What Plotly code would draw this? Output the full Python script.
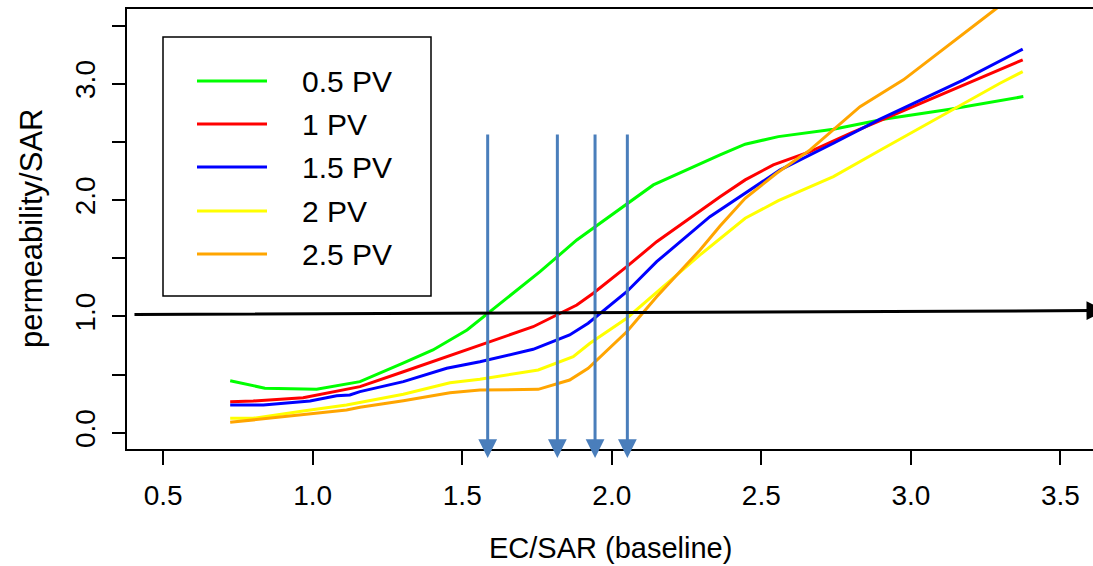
import plotly.graph_objects as go

# ---- data ----
series_names = ["0.5 PV", "1 PV", "1.5 PV", "2 PV", "2.5 PV"]
series_colors = ["#00FF00", "#FF0000", "#0000FF", "#FFFF00", "#FFA500"]

x_05 = [0.724, 0.840, 1.013, 1.101, 1.158, 1.302, 1.402, 1.516, 1.586, 1.760, 1.883, 2.005, 2.139, 2.362, 2.446, 2.557, 2.741, 2.908, 3.131, 3.376]
y_05 = [0.447, 0.382, 0.373, 0.416, 0.439, 0.599, 0.711, 0.883, 1.029, 1.384, 1.657, 1.886, 2.130, 2.388, 2.480, 2.545, 2.609, 2.695, 2.781, 2.889]

x_10 = [0.724, 0.801, 0.968, 1.113, 1.158, 1.303, 1.470, 1.559, 1.737, 1.883, 1.938, 2.050, 2.150, 2.362, 2.446, 2.540, 2.663, 2.797, 2.908, 3.220, 3.374]
y_10 = [0.267, 0.273, 0.301, 0.373, 0.396, 0.524, 0.674, 0.748, 0.911, 1.098, 1.199, 1.427, 1.642, 2.029, 2.173, 2.302, 2.416, 2.574, 2.695, 3.033, 3.205]

x_15 = [0.724, 0.835, 0.991, 1.080, 1.124, 1.158, 1.303, 1.448, 1.559, 1.737, 1.859, 1.921, 2.050, 2.150, 2.328, 2.446, 2.563, 2.741, 2.897, 3.176, 3.374]
y_15 = [0.238, 0.238, 0.273, 0.318, 0.324, 0.353, 0.439, 0.554, 0.610, 0.717, 0.840, 0.941, 1.212, 1.470, 1.857, 2.058, 2.259, 2.488, 2.695, 3.033, 3.297]

x_20 = [0.724, 0.801, 0.968, 1.113, 1.303, 1.459, 1.559, 1.754, 1.871, 1.927, 2.050, 2.295, 2.446, 2.557, 2.741, 2.903, 3.298, 3.374]
y_20 = [0.124, 0.124, 0.187, 0.238, 0.330, 0.430, 0.459, 0.539, 0.653, 0.769, 0.984, 1.528, 1.843, 1.995, 2.201, 2.437, 3.004, 3.104]

x_25 = [0.724, 0.801, 0.968, 1.113, 1.158, 1.303, 1.459, 1.559, 1.754, 1.859, 1.921, 2.050, 2.150, 2.295, 2.362, 2.446, 2.551, 2.663, 2.830, 2.975, 3.287, 3.374]
y_25 = [0.089, 0.109, 0.152, 0.195, 0.218, 0.275, 0.344, 0.367, 0.373, 0.453, 0.554, 0.868, 1.169, 1.571, 1.777, 2.015, 2.230, 2.431, 2.803, 3.033, 3.649, 3.820]

# threshold markers (EC/SAR where permeability/SAR reaches 1)
threshold_x = [1.585, 1.818, 1.944, 2.052]
arrow_top = 2.576
arrow_bottom = -0.218
hline_start = (0.399, 1.015)
hline_end = (3.650, 1.050)

x_ticks = [0.5, 1.0, 1.5, 2.0, 2.5, 3.0, 3.5]
x_ticktext = ["0.5", "1.0", "1.5", "2.0", "2.5", "3.0", "3.5"]
y_ticks = [0.0, 0.5, 1.0, 1.5, 2.0, 2.5, 3.0, 3.5]
y_ticktext = ["0.0", "", "1.0", "", "2.0", "", "3.0", ""]

xs = [x_05, x_10, x_15, x_20, x_25]
ys = [y_05, y_10, y_15, y_20, y_25]

FONT = "Liberation Sans, Arial, sans-serif"
W, H = 1093, 566
ML, MR, MT, MB = 127, 0, 9, 117

fig = go.Figure()
for name, col, xv, yv in zip(series_names, series_colors, xs, ys):
    fig.add_trace(go.Scatter(x=xv, y=yv, mode="lines", name=name,
                             line=dict(color=col, width=3), showlegend=False))

# arrows
for tx in threshold_x:
    fig.add_annotation(x=tx, y=arrow_bottom, ax=tx, ay=arrow_top,
                       xref="x", yref="y", axref="x", ayref="y",
                       text="", showarrow=True, arrowhead=2, arrowsize=1.25,
                       arrowwidth=3, arrowcolor="#4A7EBB")
fig.add_annotation(x=hline_end[0], y=hline_end[1], ax=hline_start[0], ay=hline_start[1],
                   xref="x", yref="y", axref="x", ayref="y",
                   text="", showarrow=True, arrowhead=2, arrowsize=1.25,
                   arrowwidth=3, arrowcolor="black")

# manual legend
pw = W - ML - MR
ph = H - MT - MB
def px2paper_x(p):
    return (p - ML) / pw
def px2paper_y(p):
    return (H - MB - p) / ph

fig.add_shape(type="rect", xref="paper", yref="paper",
              x0=px2paper_x(163), x1=px2paper_x(431),
              y0=px2paper_y(296), y1=px2paper_y(37),
              line=dict(color="black", width=1.5), fillcolor="white", layer="above")
rows = [81, 124, 167, 211, 254]
for name, col, r in zip(series_names, series_colors, rows):
    fig.add_shape(type="line", xref="paper", yref="paper",
                  x0=px2paper_x(197), x1=px2paper_x(267),
                  y0=px2paper_y(r), y1=px2paper_y(r),
                  line=dict(color=col, width=3), layer="above")
    fig.add_annotation(x=px2paper_x(300), y=px2paper_y(r), xref="paper", yref="paper",
                       text=name, showarrow=False, xanchor="left", yanchor="middle",
                       font=dict(family=FONT, size=30, color="black"))

# axis titles
fig.add_annotation(x=0.5, y=px2paper_y(548), xref="paper", yref="paper",
                   text="EC/SAR (baseline)", showarrow=False,
                   xanchor="center", yanchor="middle",
                   font=dict(family=FONT, size=29, color="black"))
fig.add_annotation(x=px2paper_x(31), y=0.5, xref="paper", yref="paper",
                   text="permeability/SAR", showarrow=False, textangle=-90,
                   xanchor="center", yanchor="middle",
                   font=dict(family=FONT, size=31, color="black"))

fig.update_layout(
    width=W, height=H,
    margin=dict(l=ML, r=MR, t=MT, b=MB, pad=0),
    plot_bgcolor="white", paper_bgcolor="white",
    font=dict(family=FONT, size=28, color="black"),
    xaxis=dict(range=[0.379, 3.609], tickvals=x_ticks, ticktext=x_ticktext,
               showgrid=False, zeroline=False, showline=True, linecolor="black",
               linewidth=2, mirror=True, ticks="outside", ticklen=14, tickwidth=2,
               tickcolor="black", ticklabelstandoff=6,
               tickfont=dict(family=FONT, size=28, color="black")),
    yaxis=dict(range=[-0.140, 3.642], tickvals=y_ticks, ticktext=y_ticktext,
               showgrid=False, zeroline=False, showline=True, linecolor="black",
               linewidth=2, mirror=False, ticks="outside", ticklen=13, tickwidth=2,
               tickcolor="black", tickangle=-90, ticklabelstandoff=6,
               tickfont=dict(family=FONT, size=28, color="black")),
)

fig.write_html("out.html")
